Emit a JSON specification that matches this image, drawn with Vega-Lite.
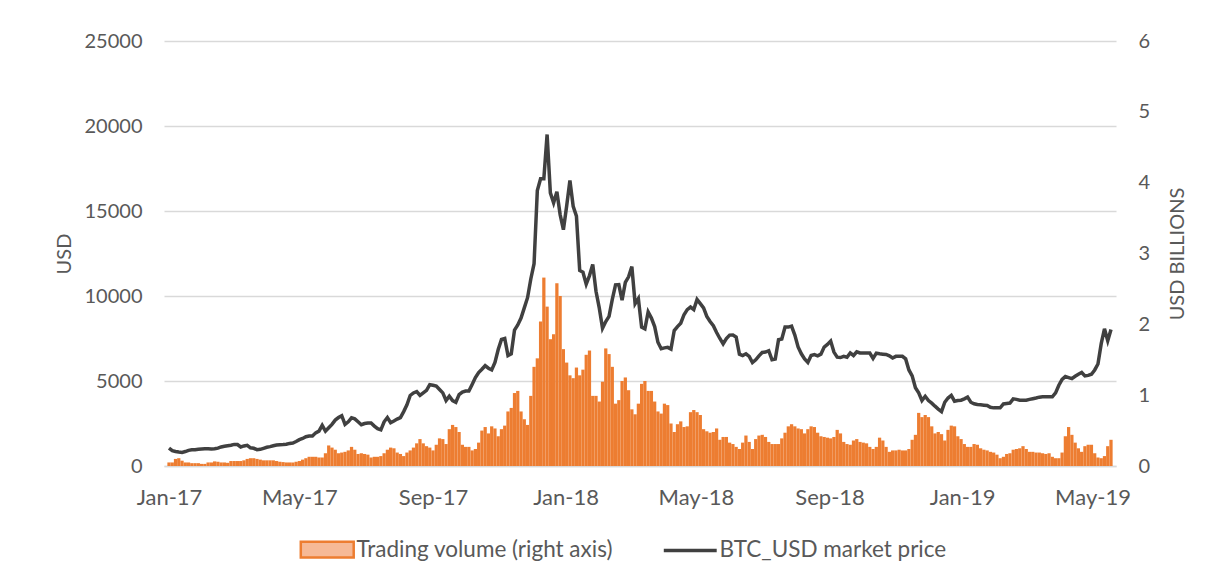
{
"$schema": "https://vega.github.io/schema/vega-lite/v6.json",
"width": 952,
"height": 425,
"autosize": {"type": "none"},
"padding": {"left": 164, "top": 41, "right": 93, "bottom": 118},
"background": "#ffffff",
"config": {
  "view": {"stroke": null},
  "font": "Lato",
  "axis": {"labelFont": "Lato", "titleFont": "Lato", "labelFontSize": 20, "titleFontSize": 20, "labelColor": "#595959", "titleColor": "#595959", "titleFontWeight": "normal", "ticks": false, "domain": false, "grid": false}
},
"data": {"format": {"parse": {"d": "utc:'%Y-%m-%d'"}}, "values": [
{"d":"2017-01-01","p":1050,"v":0.05},{"d":"2017-01-04","p":900,"v":0.05},{"d":"2017-01-07","p":850,"v":0.10},{"d":"2017-01-10","p":820,"v":0.11},{"d":"2017-01-13","p":800,"v":0.075},{"d":"2017-01-16","p":850,"v":0.05},{"d":"2017-01-19","p":920,"v":0.05},{"d":"2017-01-22","p":950,"v":0.04},{"d":"2017-01-25","p":960,"v":0.04},{"d":"2017-01-28","p":990,"v":0.04},{"d":"2017-01-31","p":1000,"v":0.03},
{"d":"2017-02-03","p":1010,"v":0.03},{"d":"2017-02-06","p":1010,"v":0.05},{"d":"2017-02-09","p":1000,"v":0.05},{"d":"2017-02-12","p":1010,"v":0.065},{"d":"2017-02-15","p":1050,"v":0.06},{"d":"2017-02-18","p":1120,"v":0.05},{"d":"2017-02-21","p":1160,"v":0.05},{"d":"2017-02-24","p":1190,"v":0.045},{"d":"2017-02-27","p":1220,"v":0.07},
{"d":"2017-03-02","p":1270,"v":0.07},{"d":"2017-03-05","p":1260,"v":0.07},{"d":"2017-03-08","p":1120,"v":0.07},{"d":"2017-03-11","p":1180,"v":0.08},{"d":"2017-03-14","p":1220,"v":0.10},{"d":"2017-03-17","p":1070,"v":0.11},{"d":"2017-03-20","p":1040,"v":0.11},{"d":"2017-03-23","p":960,"v":0.10},{"d":"2017-03-26","p":980,"v":0.09},{"d":"2017-03-29","p":1040,"v":0.08},
{"d":"2017-04-01","p":1100,"v":0.08},{"d":"2017-04-04","p":1140,"v":0.08},{"d":"2017-04-07","p":1190,"v":0.08},{"d":"2017-04-10","p":1230,"v":0.07},{"d":"2017-04-13","p":1250,"v":0.06},{"d":"2017-04-16","p":1260,"v":0.055},{"d":"2017-04-19","p":1280,"v":0.05},{"d":"2017-04-22","p":1330,"v":0.05},{"d":"2017-04-25","p":1350,"v":0.05},{"d":"2017-04-28","p":1440,"v":0.06},
{"d":"2017-05-01","p":1550,"v":0.07},{"d":"2017-05-04","p":1620,"v":0.09},{"d":"2017-05-07","p":1720,"v":0.11},{"d":"2017-05-10","p":1760,"v":0.13},{"d":"2017-05-13","p":1760,"v":0.13},{"d":"2017-05-16","p":1950,"v":0.13},{"d":"2017-05-19","p":2050,"v":0.12},{"d":"2017-05-22","p":2390,"v":0.12},{"d":"2017-05-25","p":2050,"v":0.18},{"d":"2017-05-28","p":2250,"v":0.29},{"d":"2017-05-31","p":2450,"v":0.26},
{"d":"2017-06-03","p":2700,"v":0.23},{"d":"2017-06-06","p":2850,"v":0.18},{"d":"2017-06-09","p":2960,"v":0.19},{"d":"2017-06-12","p":2450,"v":0.20},{"d":"2017-06-15","p":2600,"v":0.22},{"d":"2017-06-18","p":2830,"v":0.27},{"d":"2017-06-21","p":2770,"v":0.23},{"d":"2017-06-24","p":2600,"v":0.17},{"d":"2017-06-27","p":2430,"v":0.18},{"d":"2017-06-30","p":2500,"v":0.17},
{"d":"2017-07-03","p":2530,"v":0.16},{"d":"2017-07-06","p":2530,"v":0.12},{"d":"2017-07-09","p":2350,"v":0.13},{"d":"2017-07-12","p":2200,"v":0.13},{"d":"2017-07-15","p":2130,"v":0.14},{"d":"2017-07-18","p":2600,"v":0.18},{"d":"2017-07-21","p":2850,"v":0.23},{"d":"2017-07-24","p":2550,"v":0.26},{"d":"2017-07-27","p":2650,"v":0.25},{"d":"2017-07-30","p":2760,"v":0.19},
{"d":"2017-08-02","p":2850,"v":0.17},{"d":"2017-08-05","p":3200,"v":0.14},{"d":"2017-08-08","p":3600,"v":0.19},{"d":"2017-08-11","p":4150,"v":0.22},{"d":"2017-08-14","p":4300,"v":0.26},{"d":"2017-08-17","p":4380,"v":0.32},{"d":"2017-08-20","p":4150,"v":0.38},{"d":"2017-08-23","p":4300,"v":0.32},{"d":"2017-08-26","p":4450,"v":0.28},{"d":"2017-08-29","p":4780,"v":0.26},
{"d":"2017-09-01","p":4750,"v":0.22},{"d":"2017-09-04","p":4700,"v":0.30},{"d":"2017-09-07","p":4500,"v":0.39},{"d":"2017-09-10","p":4300,"v":0.38},{"d":"2017-09-13","p":3850,"v":0.31},{"d":"2017-09-16","p":4110,"v":0.52},{"d":"2017-09-19","p":3850,"v":0.58},{"d":"2017-09-22","p":3750,"v":0.55},{"d":"2017-09-25","p":4200,"v":0.48},{"d":"2017-09-28","p":4350,"v":0.30},
{"d":"2017-10-01","p":4410,"v":0.27},{"d":"2017-10-04","p":4410,"v":0.27},{"d":"2017-10-07","p":4800,"v":0.22},{"d":"2017-10-10","p":5200,"v":0.24},{"d":"2017-10-13","p":5500,"v":0.33},{"d":"2017-10-16","p":5690,"v":0.50},{"d":"2017-10-19","p":5900,"v":0.55},{"d":"2017-10-22","p":5750,"v":0.46},{"d":"2017-10-25","p":5650,"v":0.56},{"d":"2017-10-28","p":6090,"v":0.53},{"d":"2017-10-31","p":6850,"v":0.42},
{"d":"2017-11-03","p":7450,"v":0.52},{"d":"2017-11-06","p":7500,"v":0.57},{"d":"2017-11-09","p":6500,"v":0.77},{"d":"2017-11-12","p":6600,"v":0.82},{"d":"2017-11-15","p":8000,"v":1.03},{"d":"2017-11-18","p":8300,"v":1.06},{"d":"2017-11-21","p":8700,"v":0.77},{"d":"2017-11-24","p":9300,"v":0.66},{"d":"2017-11-27","p":9900,"v":0.58},{"d":"2017-11-30","p":11000,"v":0.99},
{"d":"2017-12-03","p":11900,"v":1.40},{"d":"2017-12-06","p":16200,"v":1.52},{"d":"2017-12-09","p":16900,"v":2.04},{"d":"2017-12-12","p":16900,"v":2.66},{"d":"2017-12-15","p":19500,"v":2.25},{"d":"2017-12-18","p":16070,"v":1.79},{"d":"2017-12-21","p":15480,"v":1.86},{"d":"2017-12-24","p":16130,"v":2.58},{"d":"2017-12-27","p":14790,"v":2.40},{"d":"2017-12-30","p":13900,"v":1.65},
{"d":"2018-01-02","p":15300,"v":1.46},{"d":"2018-01-05","p":16800,"v":1.28},{"d":"2018-01-08","p":15280,"v":1.24},{"d":"2018-01-11","p":14700,"v":1.39},{"d":"2018-01-14","p":11500,"v":1.28},{"d":"2018-01-17","p":11400,"v":1.36},{"d":"2018-01-20","p":10700,"v":1.57},{"d":"2018-01-23","p":11200,"v":1.63},{"d":"2018-01-26","p":11860,"v":0.99},{"d":"2018-01-29","p":10280,"v":0.99},
{"d":"2018-02-01","p":9300,"v":0.91},{"d":"2018-02-04","p":8100,"v":1.19},{"d":"2018-02-07","p":8500,"v":1.66},{"d":"2018-02-10","p":8800,"v":1.58},{"d":"2018-02-13","p":9800,"v":1.40},{"d":"2018-02-16","p":10650,"v":0.88},{"d":"2018-02-19","p":10670,"v":0.93},{"d":"2018-02-22","p":9750,"v":1.20},{"d":"2018-02-25","p":10800,"v":1.25},{"d":"2018-02-28","p":11130,"v":1.07},
{"d":"2018-03-03","p":11730,"v":0.80},{"d":"2018-03-06","p":9550,"v":0.73},{"d":"2018-03-09","p":9850,"v":0.88},{"d":"2018-03-12","p":8170,"v":1.16},{"d":"2018-03-15","p":8070,"v":1.20},{"d":"2018-03-18","p":9060,"v":1.06},{"d":"2018-03-21","p":8700,"v":1.06},{"d":"2018-03-24","p":8200,"v":0.91},{"d":"2018-03-27","p":7280,"v":0.77},{"d":"2018-03-30","p":6900,"v":0.74},
{"d":"2018-04-02","p":6950,"v":0.88},{"d":"2018-04-05","p":6980,"v":0.86},{"d":"2018-04-08","p":6880,"v":0.60},{"d":"2018-04-11","p":7970,"v":0.48},{"d":"2018-04-14","p":8200,"v":0.59},{"d":"2018-04-17","p":8400,"v":0.63},{"d":"2018-04-20","p":8900,"v":0.55},{"d":"2018-04-23","p":9200,"v":0.56},{"d":"2018-04-26","p":9350,"v":0.76},{"d":"2018-04-29","p":9200,"v":0.79},
{"d":"2018-05-02","p":9800,"v":0.76},{"d":"2018-05-05","p":9550,"v":0.72},{"d":"2018-05-08","p":9300,"v":0.52},{"d":"2018-05-11","p":8800,"v":0.49},{"d":"2018-05-14","p":8500,"v":0.47},{"d":"2018-05-17","p":8250,"v":0.48},{"d":"2018-05-20","p":7850,"v":0.53},{"d":"2018-05-23","p":7500,"v":0.37},{"d":"2018-05-26","p":7180,"v":0.41},{"d":"2018-05-29","p":7500,"v":0.41},
{"d":"2018-06-01","p":7700,"v":0.33},{"d":"2018-06-04","p":7710,"v":0.31},{"d":"2018-06-07","p":7580,"v":0.27},{"d":"2018-06-10","p":6580,"v":0.24},{"d":"2018-06-13","p":6500,"v":0.33},{"d":"2018-06-16","p":6600,"v":0.43},{"d":"2018-06-19","p":6450,"v":0.34},{"d":"2018-06-22","p":6090,"v":0.24},{"d":"2018-06-25","p":6250,"v":0.38},{"d":"2018-06-28","p":6480,"v":0.43},
{"d":"2018-07-01","p":6680,"v":0.44},{"d":"2018-07-04","p":6700,"v":0.41},{"d":"2018-07-07","p":6780,"v":0.34},{"d":"2018-07-10","p":6250,"v":0.31},{"d":"2018-07-13","p":6290,"v":0.31},{"d":"2018-07-16","p":7430,"v":0.31},{"d":"2018-07-19","p":7470,"v":0.39},{"d":"2018-07-22","p":8170,"v":0.47},{"d":"2018-07-25","p":8170,"v":0.56},{"d":"2018-07-28","p":8230,"v":0.59},{"d":"2018-07-31","p":7700,"v":0.56},
{"d":"2018-08-03","p":7000,"v":0.53},{"d":"2018-08-06","p":6600,"v":0.52},{"d":"2018-08-09","p":6300,"v":0.46},{"d":"2018-08-12","p":6090,"v":0.52},{"d":"2018-08-15","p":6500,"v":0.56},{"d":"2018-08-18","p":6550,"v":0.55},{"d":"2018-08-21","p":6480,"v":0.47},{"d":"2018-08-24","p":6580,"v":0.42},{"d":"2018-08-27","p":7000,"v":0.41},{"d":"2018-08-30","p":7150,"v":0.40},
{"d":"2018-09-02","p":7350,"v":0.39},{"d":"2018-09-05","p":6700,"v":0.41},{"d":"2018-09-08","p":6400,"v":0.51},{"d":"2018-09-11","p":6380,"v":0.46},{"d":"2018-09-14","p":6450,"v":0.34},{"d":"2018-09-17","p":6400,"v":0.31},{"d":"2018-09-20","p":6650,"v":0.30},{"d":"2018-09-23","p":6500,"v":0.36},{"d":"2018-09-26","p":6720,"v":0.38},{"d":"2018-09-29","p":6650,"v":0.34},
{"d":"2018-10-02","p":6640,"v":0.33},{"d":"2018-10-05","p":6640,"v":0.32},{"d":"2018-10-08","p":6640,"v":0.27},{"d":"2018-10-11","p":6330,"v":0.24},{"d":"2018-10-14","p":6640,"v":0.27},{"d":"2018-10-17","p":6600,"v":0.40},{"d":"2018-10-20","p":6580,"v":0.36},{"d":"2018-10-23","p":6560,"v":0.27},{"d":"2018-10-26","p":6480,"v":0.20},{"d":"2018-10-29","p":6350,"v":0.22},
{"d":"2018-11-01","p":6450,"v":0.22},{"d":"2018-11-04","p":6450,"v":0.23},{"d":"2018-11-07","p":6450,"v":0.22},{"d":"2018-11-10","p":6300,"v":0.22},{"d":"2018-11-13","p":5650,"v":0.24},{"d":"2018-11-16","p":5300,"v":0.37},{"d":"2018-11-19","p":4600,"v":0.44},{"d":"2018-11-22","p":4300,"v":0.75},{"d":"2018-11-25","p":3850,"v":0.69},{"d":"2018-11-28","p":4100,"v":0.72},
{"d":"2018-12-01","p":3850,"v":0.69},{"d":"2018-12-04","p":3700,"v":0.56},{"d":"2018-12-07","p":3520,"v":0.46},{"d":"2018-12-10","p":3350,"v":0.48},{"d":"2018-12-13","p":3200,"v":0.45},{"d":"2018-12-16","p":3750,"v":0.36},{"d":"2018-12-19","p":4000,"v":0.51},{"d":"2018-12-22","p":4150,"v":0.57},{"d":"2018-12-25","p":3810,"v":0.56},{"d":"2018-12-28","p":3850,"v":0.42},{"d":"2018-12-31","p":3870,"v":0.38},
{"d":"2019-01-03","p":3950,"v":0.31},{"d":"2019-01-06","p":4050,"v":0.27},{"d":"2019-01-09","p":3750,"v":0.27},{"d":"2019-01-12","p":3660,"v":0.31},{"d":"2019-01-15","p":3620,"v":0.30},{"d":"2019-01-18","p":3600,"v":0.25},{"d":"2019-01-21","p":3580,"v":0.23},{"d":"2019-01-24","p":3560,"v":0.22},{"d":"2019-01-27","p":3450,"v":0.20},{"d":"2019-01-30","p":3420,"v":0.19},
{"d":"2019-02-02","p":3420,"v":0.16},{"d":"2019-02-05","p":3420,"v":0.11},{"d":"2019-02-08","p":3650,"v":0.13},{"d":"2019-02-11","p":3680,"v":0.17},{"d":"2019-02-14","p":3700,"v":0.18},{"d":"2019-02-17","p":3950,"v":0.23},{"d":"2019-02-20","p":3920,"v":0.24},{"d":"2019-02-23","p":3870,"v":0.25},{"d":"2019-02-26","p":3870,"v":0.28},
{"d":"2019-03-01","p":3870,"v":0.24},{"d":"2019-03-04","p":3920,"v":0.20},{"d":"2019-03-07","p":3960,"v":0.20},{"d":"2019-03-10","p":4000,"v":0.19},{"d":"2019-03-13","p":4050,"v":0.19},{"d":"2019-03-16","p":4070,"v":0.18},{"d":"2019-03-19","p":4070,"v":0.17},{"d":"2019-03-22","p":4070,"v":0.18},{"d":"2019-03-25","p":4070,"v":0.13},{"d":"2019-03-28","p":4300,"v":0.11},{"d":"2019-03-31","p":4750,"v":0.11},
{"d":"2019-04-03","p":5100,"v":0.19},{"d":"2019-04-06","p":5260,"v":0.42},{"d":"2019-04-09","p":5200,"v":0.55},{"d":"2019-04-12","p":5140,"v":0.44},{"d":"2019-04-15","p":5280,"v":0.33},{"d":"2019-04-18","p":5400,"v":0.25},{"d":"2019-04-21","p":5500,"v":0.20},{"d":"2019-04-24","p":5300,"v":0.28},{"d":"2019-04-27","p":5330,"v":0.30},{"d":"2019-04-30","p":5400,"v":0.30},
{"d":"2019-05-03","p":5650,"v":0.18},{"d":"2019-05-06","p":6000,"v":0.12},{"d":"2019-05-09","p":7200,"v":0.11},{"d":"2019-05-12","p":8070,"v":0.14},{"d":"2019-05-15","p":7370,"v":0.28},{"d":"2019-05-18","p":8030,"v":0.37}
]},
"encoding": {
  "x": {"field": "d", "type": "temporal",
    "scale": {"type": "utc", "domain": [1483228800000, 1558137600000]},
    "axis": {"title": null, "format": "%b-%y", "labelFontSize": 22, "labelPadding": 21, "labelFlush": false, "domain": true, "domainColor": "#D9D9D9", "domainWidth": 1.5,
      "values": [1483228800000, 1493596800000, 1504224000000, 1514764800000, 1525132800000, 1535760000000, 1546300800000, 1556668800000]}}
},
"layer": [
  {"mark": {"type": "bar", "width": 3.25, "color": "#ED7D31"},
   "encoding": {
     "y": {"field": "v", "type": "quantitative", "scale": {"domain": [0, 6], "nice": false},
       "axis": {"orient": "right", "title": "USD BILLIONS", "values": [0, 1, 2, 3, 4, 5, 6], "labelPadding": 22, "titleAngle": -90, "titleBaseline": "top", "titlePadding": 18}}
   }},
  {"mark": {"type": "line", "strokeWidth": 3.5, "color": "#404040"},
   "encoding": {
     "y": {"field": "p", "type": "quantitative", "scale": {"domain": [0, 25000], "nice": false},
       "axis": {"orient": "left", "title": "USD", "format": "d", "values": [0, 5000, 10000, 15000, 20000, 25000], "grid": true, "gridColor": "#D9D9D9", "gridWidth": 1.5, "labelPadding": 22, "titlePadding": 10}}
   }},
  {"transform": [{"filter": "false"}],
   "mark": {"type": "bar"},
   "encoding": {
     "color": {"datum": "Trading volume (right axis)", "type": "nominal",
       "scale": {"domain": ["Trading volume (right axis)", "BTC_USD market price"], "range": ["#F6B996", "#404040"]},
       "legend": {"orient": "none", "legendX": 152, "legendY": 497, "direction": "horizontal", "title": null,
         "symbolSize": 2800, "labelFontSize": 22.5, "labelFont": "Lato", "labelColor": "#595959", "labelLimit": 0,
         "columnPadding": 43, "labelOffset": 18,
         "encode": {"symbols": {"update": {
           "shape": {"signal": "datum.value === 'BTC_USD market price' ? 'stroke' : 'M-1,-0.3H1V0.3H-1Z'"},
           "stroke": {"signal": "datum.value === 'BTC_USD market price' ? '#404040' : '#ED7D31'"},
           "strokeWidth": {"signal": "datum.value === 'BTC_USD market price' ? 3.5 : 2.5"},
           "opacity": {"value": 1}
         }}}}}
   }}
],
"resolve": {"scale": {"y": "independent"}}
}
